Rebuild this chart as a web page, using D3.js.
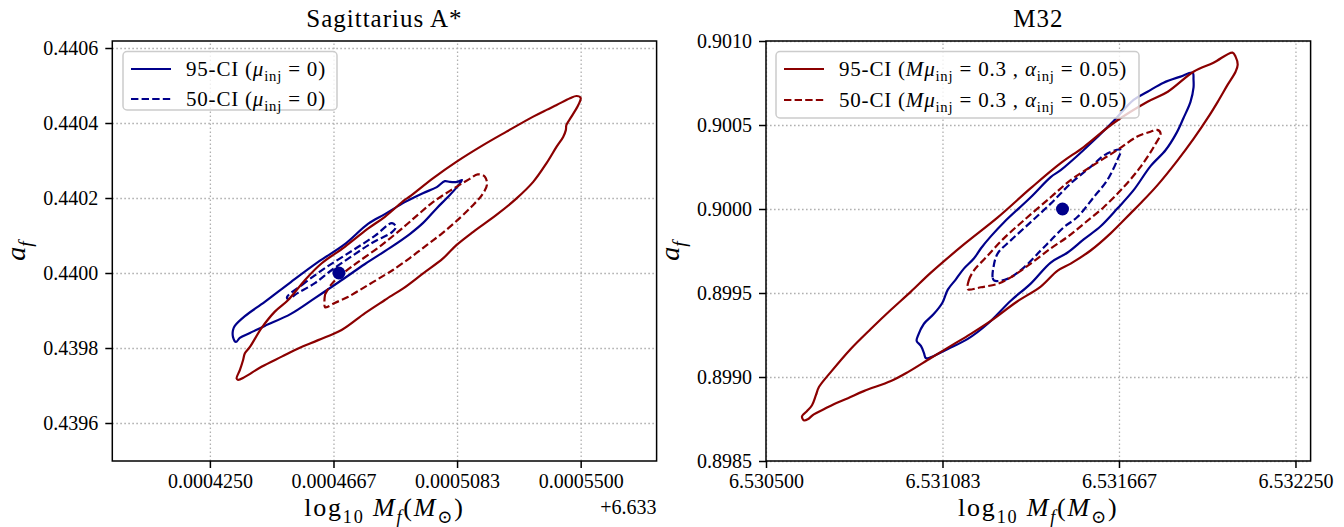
<!DOCTYPE html>
<html lang="en">
<head>
<meta charset="UTF-8">
<title>Sagittarius A* and M32 credible regions</title>
<script src="https://cdn.jsdelivr.net/npm/d3@7"></script>
<style>
  body { margin: 0; background: #fff; }
  svg, svg g, .axis { font-family: "Liberation Serif", "DejaVu Serif", serif; }
  text { white-space: pre; fill: #000; }
  .grid line { stroke: #b0b0b0; stroke-width: 1.3; stroke-dasharray: 1.6,2.4; }
  .grid path { display: none; }
  .axis path { display: none; }
  .axis line { stroke: #000; stroke-width: 1.5; }
  .axis text { font-size: 20px; }
  .contour { fill: none; stroke-width: 2.2; stroke-linejoin: round; }
</style>
</head>
<body>
<svg id="fig" width="1344" height="527"></svg>
<script>
// ---- Sagittarius A* (x is offset from 6.633) ----
const sgrXTicks = [0.000425, 0.00046667, 0.00050833, 0.00055];
const sgrXTickLabels = ["0.0004250", "0.0004667", "0.0005083", "0.0005500"];
const sgrYTicks = [0.4396, 0.4398, 0.4400, 0.4402, 0.4404, 0.4406];
const sgrOffset = "+6.633";

const sgrRed95 = [[0.0004340,0.439719],[0.0004351,0.439741],[0.0004362,0.439768],[0.0004368,0.439786],[0.0004385,0.439803],[0.0004424,0.439853],[0.0004469,0.439897],[0.0004514,0.439928],[0.0004570,0.439981],[0.0004627,0.440026],[0.0004705,0.440070],[0.0004784,0.440119],[0.0004840,0.440150],[0.0004907,0.440195],[0.0004924,0.440204],[0.0005003,0.440253],[0.0005082,0.440297],[0.0005171,0.440341],[0.0005250,0.440377],[0.0005340,0.440417],[0.0005385,0.440435],[0.0005419,0.440448],[0.0005464,0.440466],[0.0005486,0.440472],[0.0005500,0.440467],[0.0005492,0.440448],[0.0005469,0.440417],[0.0005452,0.440395],[0.0005450,0.440381],[0.0005441,0.440363],[0.0005419,0.440337],[0.0005385,0.440293],[0.0005340,0.440243],[0.0005284,0.440199],[0.0005216,0.440155],[0.0005138,0.440110],[0.0005082,0.440075],[0.0005036,0.440039],[0.0004969,0.439999],[0.0004902,0.439959],[0.0004857,0.439937],[0.0004840,0.439928],[0.0004773,0.439893],[0.0004694,0.439848],[0.0004615,0.439821],[0.0004548,0.439799],[0.0004492,0.439777],[0.0004424,0.439750],[0.0004368,0.439723],[0.0004345,0.439715]];
const sgrRed50 = [[0.0004638,0.439909],[0.0004638,0.439941],[0.0004641,0.439947],[0.0004661,0.439971],[0.0004705,0.440003],[0.0004749,0.440029],[0.0004830,0.440075],[0.0004907,0.440125],[0.0004958,0.440160],[0.0005002,0.440189],[0.0005059,0.440219],[0.0005126,0.440251],[0.0005153,0.440263],[0.0005177,0.440257],[0.0005184,0.440235],[0.0005167,0.440208],[0.0005137,0.440181],[0.0005093,0.440147],[0.0005035,0.440107],[0.0004982,0.440075],[0.0004924,0.440040],[0.0004867,0.440008],[0.0004840,0.439995],[0.0004773,0.439963],[0.0004715,0.439936],[0.0004671,0.439920],[0.0004644,0.439909]];
const sgrBlue95 = [[0.0004334,0.439859],[0.0004368,0.439885],[0.0004435,0.439923],[0.0004523,0.439976],[0.0004614,0.440029],[0.0004705,0.440077],[0.0004783,0.440131],[0.0004840,0.440157],[0.0004907,0.440189],[0.0004968,0.440213],[0.0005015,0.440229],[0.0005042,0.440245],[0.0005059,0.440243],[0.0005083,0.440243],[0.0005100,0.440248],[0.0005083,0.440229],[0.0005049,0.440200],[0.0005015,0.440173],[0.0004968,0.440133],[0.0004924,0.440104],[0.0004857,0.440067],[0.0004773,0.440024],[0.0004685,0.439976],[0.0004604,0.439933],[0.0004523,0.439891],[0.0004435,0.439859],[0.0004385,0.439840],[0.0004351,0.439827],[0.0004338,0.439816],[0.0004328,0.439829],[0.0004328,0.439848]];
const sgrBlue50 = [[0.0004510,0.439936],[0.0004560,0.439968],[0.0004638,0.440013],[0.0004729,0.440059],[0.0004806,0.440099],[0.0004864,0.440133],[0.0004877,0.440123],[0.0004864,0.440109],[0.0004796,0.440080],[0.0004729,0.440045],[0.0004661,0.440008],[0.0004604,0.439973],[0.0004547,0.439947],[0.0004513,0.439931]];
const sgrInjected = [0.0004685, 0.4400];

// ---- M32 ----
const m32XTicks = [6.5305, 6.53108333, 6.53166667, 6.53225];
const m32XTickLabels = ["6.530500", "6.531083", "6.531667", "6.532250"];
const m32YTicks = [0.8985, 0.8990, 0.8995, 0.9000, 0.9005, 0.9010];

const m32Red95 = [[6.530625,0.898742],[6.530619,0.898766],[6.530635,0.898796],[6.530652,0.898832],[6.530665,0.898892],[6.530675,0.898940],[6.530714,0.899029],[6.530780,0.899167],[6.530847,0.899287],[6.530913,0.899400],[6.530979,0.899508],[6.531045,0.899621],[6.531154,0.899789],[6.531266,0.899950],[6.531375,0.900124],[6.531474,0.900273],[6.531550,0.900369],[6.531649,0.900512],[6.531761,0.900638],[6.531828,0.900698],[6.531913,0.900817],[6.531979,0.900871],[6.532042,0.900931],[6.532052,0.900907],[6.532059,0.900859],[6.532052,0.900817],[6.532026,0.900740],[6.531993,0.900638],[6.531960,0.900542],[6.531913,0.900417],[6.531861,0.900291],[6.531794,0.900142],[6.531738,0.900034],[6.531705,0.899974],[6.531639,0.899855],[6.531573,0.899753],[6.531507,0.899675],[6.531464,0.899633],[6.531408,0.899538],[6.531329,0.899448],[6.531243,0.899334],[6.531177,0.899257],[6.531111,0.899185],[6.531045,0.899113],[6.530969,0.899029],[6.530913,0.898976],[6.530823,0.898916],[6.530771,0.898874],[6.530724,0.898838],[6.530691,0.898808],[6.530658,0.898778],[6.530638,0.898748]];
const m32Red50 = [[6.531166,0.899526],[6.531170,0.899574],[6.531187,0.899633],[6.531233,0.899723],[6.531286,0.899825],[6.531352,0.899932],[6.531441,0.900070],[6.531507,0.900172],[6.531573,0.900251],[6.531661,0.900351],[6.531727,0.900431],[6.531771,0.900460],[6.531793,0.900471],[6.531804,0.900451],[6.531782,0.900371],[6.531738,0.900251],[6.531683,0.900132],[6.531617,0.900012],[6.531551,0.899913],[6.531496,0.899833],[6.531441,0.899765],[6.531375,0.899675],[6.531309,0.899593],[6.531265,0.899554],[6.531210,0.899534],[6.531170,0.899520]];
const m32Blue95 = [[6.531083,0.899442],[6.531101,0.899520],[6.531127,0.899580],[6.531154,0.899645],[6.531187,0.899705],[6.531210,0.899765],[6.531243,0.899837],[6.531286,0.899920],[6.531375,0.900070],[6.531441,0.900190],[6.531474,0.900231],[6.531550,0.900351],[6.531649,0.900524],[6.531715,0.900650],[6.531761,0.900698],[6.531814,0.900752],[6.531870,0.900788],[6.531910,0.900811],[6.531913,0.900770],[6.531913,0.900722],[6.531903,0.900638],[6.531880,0.900542],[6.531857,0.900453],[6.531821,0.900351],[6.531771,0.900255],[6.531715,0.900112],[6.531662,0.900004],[6.531606,0.899897],[6.531550,0.899819],[6.531497,0.899741],[6.531441,0.899681],[6.531375,0.899556],[6.531309,0.899454],[6.531233,0.899317],[6.531167,0.899227],[6.531101,0.899167],[6.531038,0.899113],[6.531028,0.899113],[6.531022,0.899143],[6.531012,0.899185],[6.530998,0.899215],[6.531002,0.899245],[6.531022,0.899317],[6.531055,0.899376]];
const m32Blue50 = [[6.531254,0.899574],[6.531249,0.899593],[6.531251,0.899645],[6.531265,0.899733],[6.531309,0.899813],[6.531375,0.899922],[6.531441,0.900032],[6.531507,0.900152],[6.531573,0.900251],[6.531628,0.900331],[6.531672,0.900351],[6.531661,0.900291],[6.531628,0.900172],[6.531584,0.900072],[6.531529,0.899952],[6.531485,0.899892],[6.531441,0.899813],[6.531408,0.899753],[6.531353,0.899653],[6.531298,0.899584]];
const m32Injected = [6.53148, 0.9000];

const blue = "#00008b", red = "#8b0000";
const dashes = "7.4,3.2";

const svg = d3.select("#fig");

// write text made of parts: [string, flags] where flags may hold "i" (italic) and "s" (subscript)
function rich(textSel, parts, size) {
  let shift = 0;
  parts.forEach(([s, flags]) => {
    const t = textSel.append("tspan").text(s);
    const sub = flags.includes("s");
    const target = sub ? size * 0.25 : 0;
    if (target !== shift) { t.attr("dy", target - shift); shift = target; }
    if (sub) t.attr("font-size", size * 0.7);
    if (flags.includes("i")) t.attr("font-style", "italic");
  });
}

function panel(cfg) {
  const top = 41, bottom = 461;
  const x = d3.scaleLinear().domain(cfg.xDomain).range([cfg.left, cfg.right]);
  const y = d3.scaleLinear().domain(cfg.yDomain).range([bottom, top]);
  const g = svg.append("g");

  // grid
  g.append("g").attr("class", "grid")
    .attr("transform", `translate(0,${bottom})`)
    .call(d3.axisBottom(x).tickValues(cfg.xTicks).tickSize(-(bottom - top)).tickFormat(""));
  g.append("g").attr("class", "grid")
    .attr("transform", `translate(${cfg.left},0)`)
    .call(d3.axisLeft(y).tickValues(cfg.yTicks).tickSize(-(cfg.right - cfg.left)).tickFormat(""));

  // contours
  const line = d3.line().x(d => x(d[0])).y(d => y(d[1])).curve(d3.curveCatmullRomClosed.alpha(0.5));
  cfg.contours.forEach(c => {
    g.append("path").attr("class", "contour")
      .attr("d", line(c.pts))
      .attr("stroke", c.color)
      .attr("stroke-dasharray", c.dashed ? dashes : null);
  });

  g.append("circle")
    .attr("cx", x(cfg.point[0])).attr("cy", y(cfg.point[1]))
    .attr("r", 6.5).attr("fill", blue);

  // spines
  g.append("rect")
    .attr("x", cfg.left).attr("y", top)
    .attr("width", cfg.right - cfg.left).attr("height", bottom - top)
    .attr("fill", "none").attr("stroke", "#000").attr("stroke-width", 1.5);

  // axes
  g.append("g").attr("class", "axis")
    .attr("transform", `translate(0,${bottom})`)
    .call(d3.axisBottom(x).tickValues(cfg.xTicks).tickSize(7).tickPadding(6)
      .tickFormat((d, i) => cfg.xLabels[i]))
    .attr("font-family", null);
  g.append("g").attr("class", "axis")
    .attr("transform", `translate(${cfg.left},0)`)
    .call(d3.axisLeft(y).tickValues(cfg.yTicks).tickSize(7).tickPadding(7)
      .tickFormat(d3.format(".4f")))
    .attr("font-family", null);

  if (cfg.offset) {
    g.append("text").attr("x", cfg.right).attr("y", 514)
      .attr("text-anchor", "end").attr("font-size", 20).text(cfg.offset);
  }

  // title
  g.append("text").attr("x", (cfg.left + cfg.right) / 2).attr("y", 27)
    .attr("text-anchor", "middle").attr("font-size", 25)
    .attr("letter-spacing", 1).text(cfg.title);

  // axis labels
  const xl = g.append("text").attr("x", (cfg.left + cfg.right) / 2).attr("y", 516)
    .attr("text-anchor", "middle").attr("font-size", 26).attr("letter-spacing", 1.8);
  rich(xl, [["log", ""], ["10", "s"], [" ", ""], ["M", "i"], ["f", "is"], ["(", ""], ["M", "i"], ["\u2299", "s"], [")", ""]], 26);
  const yl = g.append("text")
    .attr("transform", `translate(${cfg.left - 87},${(top + bottom) / 2}) rotate(-90)`)
    .attr("text-anchor", "middle").attr("font-size", 28);
  rich(yl, [["a", "i"], ["f", "is"]], 28);

  // legend
  const L = cfg.legend;
  g.append("rect")
    .attr("x", L.x).attr("y", L.y).attr("width", L.w).attr("height", L.h)
    .attr("rx", 4).attr("fill", "#fff").attr("fill-opacity", 0.8)
    .attr("stroke", "#cccccc").attr("stroke-width", 1.5);
  L.items.forEach((it, i) => {
    const yy = L.rows[i];
    g.append("line")
      .attr("x1", L.x + 8).attr("x2", L.x + 48).attr("y1", yy).attr("y2", yy)
      .attr("stroke", L.color).attr("stroke-width", 2.2)
      .attr("stroke-dasharray", it.dashed ? dashes : null);
    const t = g.append("text").attr("x", L.x + 63).attr("y", yy + 7)
      .attr("font-size", 21).attr("letter-spacing", 0.8);
    rich(t, it.parts, 21);
  });
}

panel({
  left: 112.3, right: 656.6,
  xDomain: [0.0003921, 0.0005756], yDomain: [0.4394987, 0.4406187],
  xTicks: sgrXTicks, xLabels: sgrXTickLabels, yTicks: sgrYTicks,
  offset: sgrOffset, title: "Sagittarius A*",
  contours: [
    { pts: sgrBlue95, color: blue, dashed: false },
    { pts: sgrBlue50, color: blue, dashed: true },
    { pts: sgrRed95, color: red, dashed: false },
    { pts: sgrRed50, color: red, dashed: true }
  ],
  point: sgrInjected,
  legend: {
    x: 123, y: 51.5, w: 214, h: 58.5, rows: [69, 99], color: blue,
    items: [
      { dashed: false, parts: [["95-CI (", ""], ["\u03bc", "i"], ["inj", "s"], [" = 0)", ""]] },
      { dashed: true, parts: [["50-CI (", ""], ["\u03bc", "i"], ["inj", "s"], [" = 0)", ""]] }
    ]
  }
});

panel({
  left: 766, right: 1310.6,
  xDomain: [6.5305, 6.5323], yDomain: [0.8985, 0.9010],
  xTicks: m32XTicks, xLabels: m32XTickLabels, yTicks: m32YTicks,
  offset: null, title: "M32",
  contours: [
    { pts: m32Blue95, color: blue, dashed: false },
    { pts: m32Blue50, color: blue, dashed: true },
    { pts: m32Red95, color: red, dashed: false },
    { pts: m32Red50, color: red, dashed: true }
  ],
  point: m32Injected,
  legend: {
    x: 776, y: 51.5, w: 363, h: 66.5, rows: [69, 100], color: red,
    items: [
      { dashed: false, parts: [["95-CI (", ""], ["M\u03bc", "i"], ["inj", "s"], [" = 0.3 , ", ""], ["\u03b1", "i"], ["inj", "s"], [" = 0.05)", ""]] },
      { dashed: true, parts: [["50-CI (", ""], ["M\u03bc", "i"], ["inj", "s"], [" = 0.3 , ", ""], ["\u03b1", "i"], ["inj", "s"], [" = 0.05)", ""]] }
    ]
  }
});
</script>
</body>
</html>
